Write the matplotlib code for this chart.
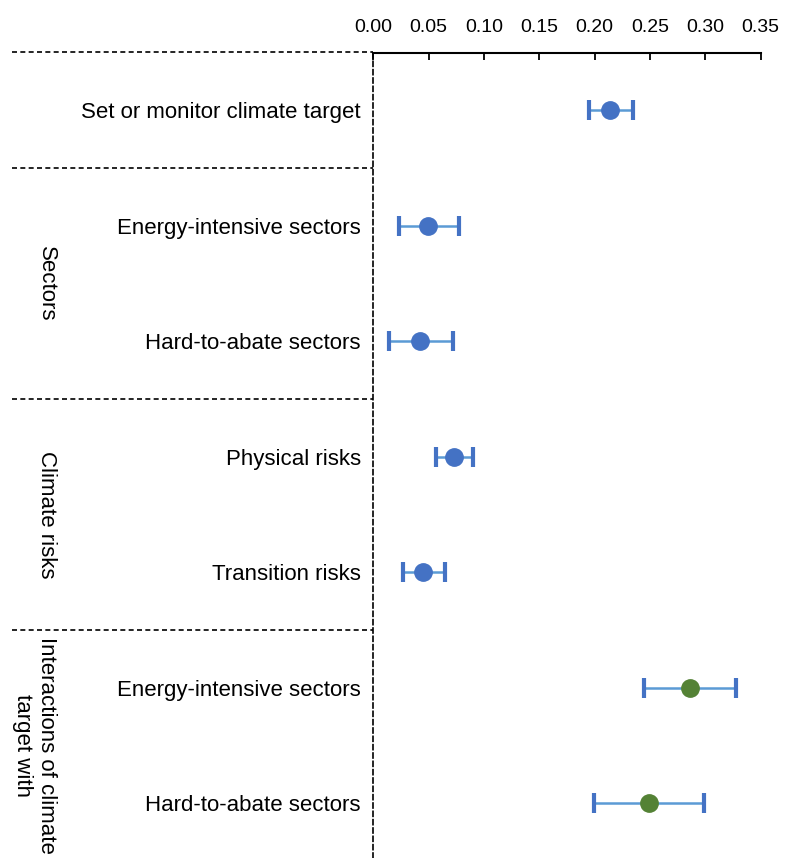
import matplotlib.pyplot as plt
import matplotlib.transforms as mtransforms

plt.rcParams['font.family'] = ['Liberation Sans', 'DejaVu Sans']

# rows from top to bottom
labels = ["Set or monitor climate target",
          "Energy-intensive sectors", "Hard-to-abate sectors",
          "Physical risks", "Transition risks",
          "Energy-intensive sectors", "Hard-to-abate sectors"]
estimate = [0.214, 0.049, 0.042, 0.073, 0.045, 0.286, 0.249]
lower = [0.195, 0.023, 0.014, 0.057, 0.027, 0.245, 0.199]
upper = [0.235, 0.077, 0.072, 0.090, 0.065, 0.328, 0.299]
point_colors = ["#4472C4"] * 5 + ["#548235"] * 2

groups = ["Sectors", "Climate risks", "Interactions of climate\ntarget with"]
group_rows = [1.5, 3.5, 5.5]
separators = [-0.5, 0.5, 2.5, 4.5]

xticks = [0.0, 0.05, 0.10, 0.15, 0.20, 0.25, 0.30, 0.35]

fig = plt.figure(figsize=(7.87, 8.58), dpi=100)
ax = fig.add_axes([0.4743, 0.0, 0.4923, 0.9382])

for i in range(len(labels)):
    err = [[estimate[i] - lower[i]], [upper[i] - estimate[i]]]
    line, caps, bars = ax.errorbar(estimate[i], i, xerr=err, fmt='o', ms=12.5,
                                   color=point_colors[i], ecolor="#5B9BD5",
                                   elinewidth=1.8, capsize=7.5, capthick=3,
                                   zorder=3)
    for c in caps:
        c.set_color("#4472C4")
        c.set_markeredgecolor("#4472C4")

ax.set_xlim(0, 0.35)
ax.set_ylim(6.476, -0.4935)

ax.xaxis.tick_top()
ax.set_xticks(xticks)
ax.set_xticklabels(["%.2f" % t for t in xticks])
ax.tick_params(axis='x', direction='in', length=5, width=1.3, labelsize=14, pad=12)

ax.set_yticks(range(len(labels)))
ax.set_yticklabels(labels)
ax.tick_params(axis='y', length=0, labelsize=16, pad=9)

ax.spines['right'].set_visible(False)
ax.spines['bottom'].set_visible(False)
ax.spines['top'].set_linewidth(1.5)
ax.spines['left'].set_linestyle((0, (3, 2)))
ax.spines['left'].set_linewidth(1.2)

trans = mtransforms.blended_transform_factory(ax.transAxes, ax.transData)
for y in separators:
    ax.plot([-0.933, 0], [y, y], color='black', lw=1.2, ls=(0, (3, 2)),
            transform=trans, clip_on=False)

for g, y in zip(groups, group_rows):
    ax.text(-0.817, y, g, transform=trans, rotation=-90, ha='right', va='center',
            fontsize=16, multialignment='center')

fig.savefig("out.png", dpi=100)
